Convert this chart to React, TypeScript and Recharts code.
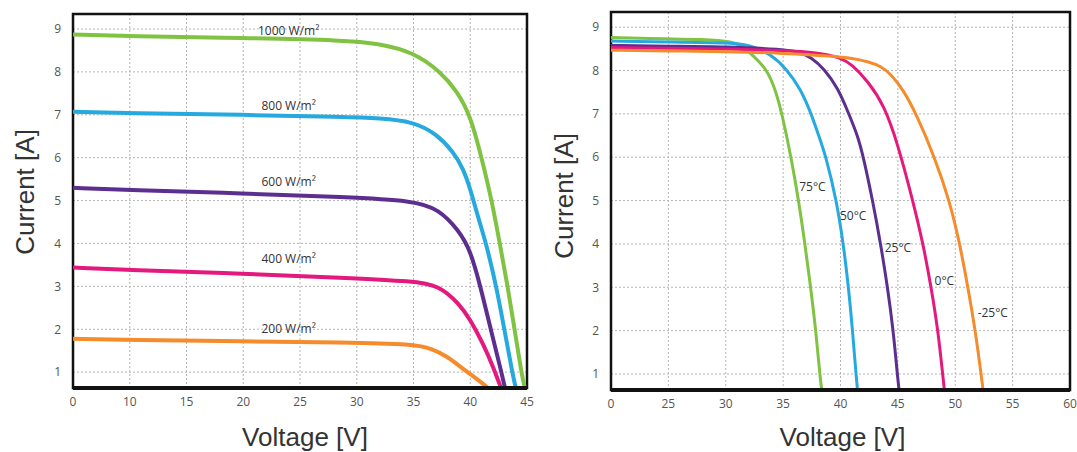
import React from 'react';
import { LineChart, Line, XAxis, YAxis, CartesianGrid, ReferenceArea, ReferenceDot } from 'recharts';

// tick labels (the voltage axes are not linear: first step is wider)
const irrVoltTicks = [0, 10, 15, 20, 25, 30, 35, 40, 45];
const tempVoltTicks = [0, 25, 30, 35, 40, 45, 50, 55, 60];
const currentTicks = [1, 2, 3, 4, 5, 6, 7, 8, 9];
const currentDomain = [0.63, 9.35];

// irradiance curves (left)
const irr1000V = [0, 10, 20, 29, 32, 35, 37.4, 38.8, 40, 41.0, 41.9, 42.6, 43.3, 43.9, 44.5, 44.8, 44.85];
const irr1000I = [8.87, 8.83, 8.79, 8.74, 8.66, 8.46, 8.0, 7.56, 7.0, 6.0, 5.0, 4.0, 3.0, 2.0, 1.0, 0.63, 0.63];
const irr800V = [0, 10, 20, 29, 32, 35, 37, 38.5, 39.4, 40.05, 40.7, 41.4, 42.3, 43.0, 43.7, 44.0, 44.05];
const irr800I = [7.07, 7.04, 7.0, 6.95, 6.92, 6.84, 6.56, 6.14, 5.74, 5.23, 4.6, 4.0, 3.0, 2.0, 1.0, 0.63, 0.63];
const irr600V = [0, 10, 20, 29, 35, 37.25, 39.0, 40.0, 40.9, 41.8, 42.75, 43.05, 43.1];
const irr600I = [5.3, 5.24, 5.17, 5.08, 5.0, 4.8, 4.3, 3.85, 3.0, 2.0, 1.0, 0.63, 0.63];
const irr400V = [0, 10, 20, 29, 35, 37.25, 39.0, 40.0, 41.1, 42.0, 42.7, 42.75];
const irr400I = [3.44, 3.38, 3.3, 3.2, 3.12, 3.02, 2.6, 2.23, 1.68, 1.14, 0.63, 0.63];
const irr200V = [0, 10, 20, 29, 35, 36.5, 38, 39.0, 40.0, 40.8, 41.55, 41.6];
const irr200I = [1.78, 1.75, 1.72, 1.69, 1.65, 1.56, 1.36, 1.15, 0.95, 0.8, 0.63, 0.63];

const irrSeries = [
  { name: '1000 W/m²', v: irr1000V, i: irr1000I, color: '#80c342', lv: 24, li: 8.97 },
  { name: '800 W/m²', v: irr800V, i: irr800I, color: '#25a9df', lv: 24, li: 7.22 },
  { name: '600 W/m²', v: irr600V, i: irr600I, color: '#5c2e8f', lv: 24, li: 5.43 },
  { name: '400 W/m²', v: irr400V, i: irr400I, color: '#e3197d', lv: 24, li: 3.64 },
  { name: '200 W/m²', v: irr200V, i: irr200I, color: '#f68b2b', lv: 24, li: 2.02 },
];

// temperature curves (right)
const t75V = [0, 25, 27.8, 30.7, 31.6, 32.2, 33.6, 34.4, 34.9, 35.7, 36.35, 36.9, 37.4, 37.85, 38.2, 38.35, 38.4];
const t75I = [8.76, 8.73, 8.72, 8.67, 8.54, 8.38, 8.04, 7.5, 7.0, 6.0, 5.0, 4.0, 3.0, 2.0, 1.0, 0.63, 0.63];
const t50V = [0, 25, 30.7, 32.2, 33.9, 35.3, 36.5, 37.4, 38.1, 38.75, 39.65, 40.25, 40.7, 41.05, 41.35, 41.48, 41.5];
const t50I = [8.68, 8.66, 8.64, 8.58, 8.38, 8.04, 7.58, 7.04, 6.5, 6.0, 5.0, 4.0, 3.0, 2.0, 1.0, 0.63, 0.63];
const t25V = [0, 25, 30, 35, 36.5, 37.4, 38.6, 39.8, 40.6, 41.5, 42.0, 42.8, 43.5, 44.1, 44.6, 44.95, 45.1, 45.12];
const t25I = [8.58, 8.56, 8.55, 8.49, 8.42, 8.31, 8.04, 7.58, 7.08, 6.5, 6.0, 5.0, 4.0, 3.0, 2.0, 1.0, 0.63, 0.63];
const t0V = [0, 25, 30, 35, 38, 40, 41, 42.4, 43.8, 45.0, 46.3, 47.2, 47.9, 48.5, 48.9, 49.05, 49.07];
const t0I = [8.53, 8.51, 8.5, 8.46, 8.42, 8.3, 8.14, 7.75, 7.2, 6.3, 5.0, 4.0, 3.0, 2.0, 1.0, 0.63, 0.63];
const tm25V = [0, 25, 30, 35, 39.5, 41.0, 42.5, 43.5, 44.4, 45.5, 46.6, 48.2, 49.5, 50.4, 51.1, 51.75, 52.25, 52.42, 52.45];
const tm25I = [8.47, 8.45, 8.44, 8.4, 8.33, 8.28, 8.2, 8.1, 7.92, 7.54, 7.0, 6.0, 5.0, 4.0, 3.0, 2.0, 1.0, 0.63, 0.63];

const tempSeries = [
  { name: '75°C', v: t75V, i: t75I, color: '#80c342', lv: 37.55, li: 5.31 },
  { name: '50°C', v: t50V, i: t50I, color: '#25a9df', lv: 41.1, li: 4.65 },
  { name: '25°C', v: t25V, i: t25I, color: '#5c2e8f', lv: 45.0, li: 3.91 },
  { name: '0°C', v: t0V, i: t0I, color: '#e3197d', lv: 49.05, li: 3.15 },
  { name: '-25°C', v: tm25V, i: tm25I, color: '#f68b2b', lv: 53.27, li: 2.42 },
];

// maps a voltage onto the evenly spaced tick positions
const makePos = (ticks: number[]) => (v: number) => {
  for (let k = 0; k < ticks.length - 1; k++) {
    if (v <= ticks[k + 1]) return k + (v - ticks[k]) / (ticks[k + 1] - ticks[k]);
  }
  return ticks.length - 1;
};

const tickFont = { fontSize: 12, fontFamily: 'Open Sans', fill: '#555' };
const titleStyle = { fontSize: 26, fontFamily: 'Liberation Sans', fill: '#333' };

type Series = { name: string; v: number[]; i: number[]; color: string; lv: number; li: number };

interface PanelProps {
  width: number;
  ticks: number[];
  series: Series[];
  margin: { top: number; right: number; left: number; bottom: number };
  yWidth: number;
  xHeight: number;
  lineWidth: number;
  yLabelShift: { dx: number; dy: number };
  xLabelShift: { dx: number; dy: number };
}

const Panel: React.FC<PanelProps> = ({ width, ticks, series, margin, yWidth, xHeight, lineWidth, yLabelShift, xLabelShift }) => {
  const pos = makePos(ticks);
  const positions = ticks.map((_, k) => k);
  const last = ticks.length - 1;
  return (
    <LineChart width={width} height={452} margin={margin}>
      <CartesianGrid stroke="#b5b5b5" strokeDasharray="2 2" />
      <XAxis
        type="number"
        dataKey="x"
        domain={[0, last]}
        ticks={positions}
        tickFormatter={(p: number) => String(ticks[p])}
        tick={tickFont}
        tickLine={false}
        tickSize={0}
        tickMargin={9}
        height={xHeight}
        axisLine={{ stroke: '#111', strokeWidth: 4 }}
        allowDataOverflow
        label={{ value: 'Voltage [V]', position: 'center', ...xLabelShift, style: titleStyle }}
      />
      <YAxis
        type="number"
        domain={currentDomain}
        ticks={currentTicks}
        tick={tickFont}
        tickLine={false}
        tickSize={0}
        tickMargin={12}
        width={yWidth}
        axisLine={false}
        allowDataOverflow
        label={{ value: 'Current [A]', position: 'center', angle: -90, ...yLabelShift, style: titleStyle }}
      />
      {series.map(s => (
        <Line
          key={s.name}
          data={s.v.map((v, k) => ({ x: pos(v), y: s.i[k] }))}
          dataKey="y"
          type="basis"
          stroke={s.color}
          strokeWidth={lineWidth}
          dot={false}
          activeDot={false}
          isAnimationActive={false}
        />
      ))}
      <ReferenceArea
        x1={0}
        x2={last}
        y1={currentDomain[0]}
        y2={currentDomain[1]}
        fill="none"
        stroke="#111"
        strokeWidth={2.5}
        ifOverflow="visible"
      />
      {series.map(s => (
        <ReferenceDot
          key={'l' + s.name}
          x={pos(s.lv)}
          y={s.li}
          r={0}
          fill="none"
          stroke="none"
          label={{ value: s.name, position: 'center', fontSize: 12, fontFamily: 'Open Sans', fill: '#333' }}
        />
      ))}
    </LineChart>
  );
};

export default function App() {
  return (
    <div style={{ position: 'absolute', left: 0, top: 0, width: 1077, height: 452, background: '#fff', display: 'flex' }}>
      <Panel
        width={540}
        ticks={irrVoltTicks}
        series={irrSeries}
        margin={{ top: 14, right: 13, left: 0, bottom: 0 }}
        yWidth={73}
        xHeight={64}
        lineWidth={4}
        yLabelShift={{ dx: -12, dy: -9 }}
        xLabelShift={{ dx: 5, dy: 17 }}
      />
      <Panel
        width={537}
        ticks={tempVoltTicks}
        series={tempSeries}
        margin={{ top: 12, right: 7, left: 0, bottom: 0 }}
        yWidth={71}
        xHeight={62}
        lineWidth={3}
        yLabelShift={{ dx: -12, dy: -5 }}
        xLabelShift={{ dx: 2, dy: 16 }}
      />
    </div>
  );
}
